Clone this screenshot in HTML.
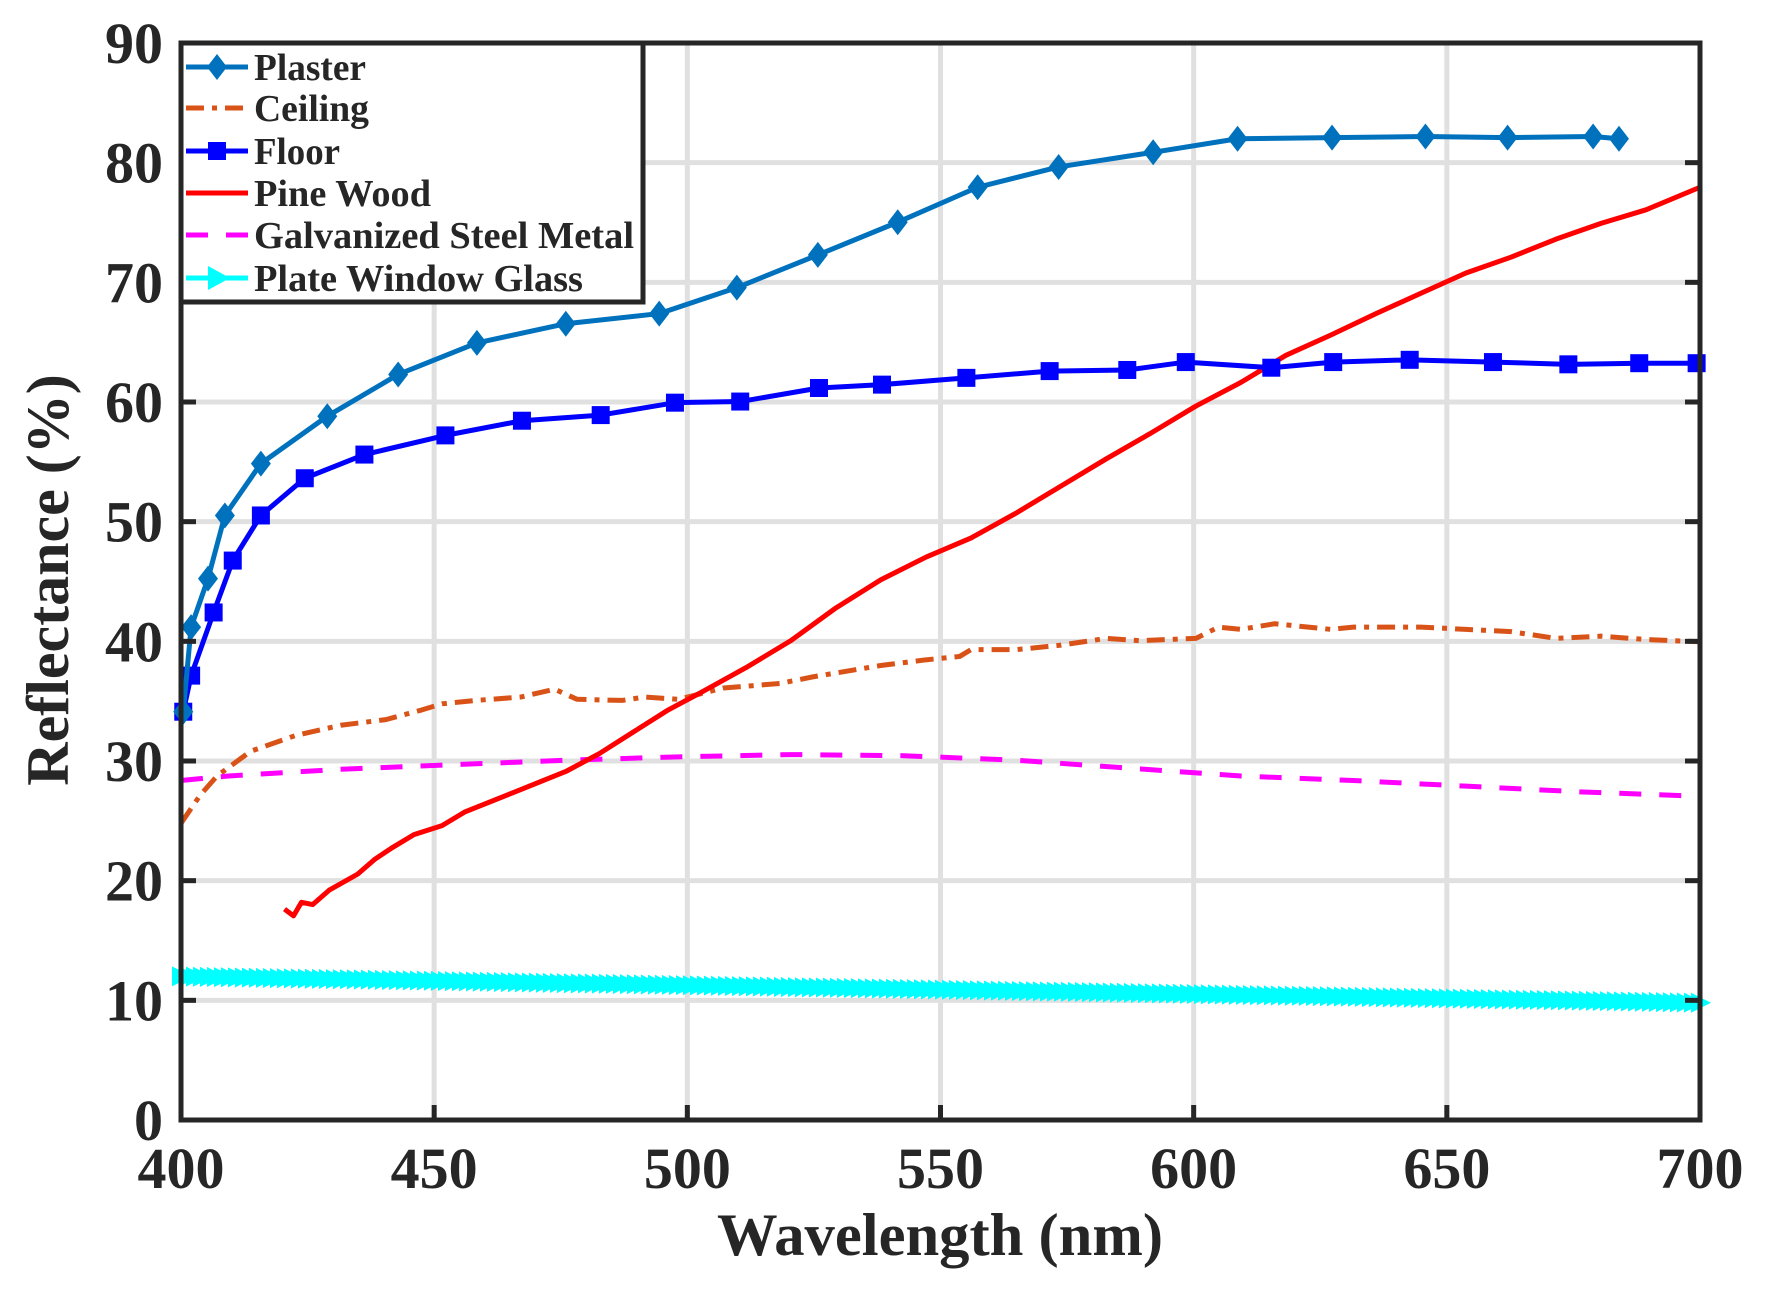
<!DOCTYPE html>
<html><head><meta charset="utf-8"><style>
html,body{margin:0;padding:0;background:#fff;}
svg text{font-family:"Liberation Serif",serif;font-weight:bold;fill:#262626;}
</style></head><body>
<svg id="s" width="1768" height="1284" viewBox="0 0 1768 1284" xmlns="http://www.w3.org/2000/svg">
<rect width="1768" height="1284" fill="#fff"/>
<g id="grid" stroke="#e0e0e0" stroke-width="5"></g>
<g id="series"></g>
<rect x="181" y="43" width="1519" height="1077" fill="none" stroke="#262626" stroke-width="5"/>
<g id="ticks" font-size="58"></g>
<text x="940" y="1255" font-size="60" text-anchor="middle" textLength="446" lengthAdjust="spacingAndGlyphs">Wavelength (nm)</text>
<text transform="translate(68,580) rotate(-90)" font-size="60" text-anchor="middle">Reflectance (%)</text>
<g id="legend"></g>
</svg>
<script>
const NS="http://www.w3.org/2000/svg";
const X=nm=>181+(nm-400)*1519/300, Y=v=>1120-v*1077/90;
const px=p=>X(400+(p-158)/4.5), py=q=>Y((993-q)/10.61);
function el(t,a,parent){const e=document.createElementNS(NS,t);for(const k in a)e.setAttribute(k,a[k]);(parent||document.getElementById('series')).appendChild(e);return e;}
const grid=document.getElementById('grid'),ticks=document.getElementById('ticks');
for(let i=0;i<=6;i++){const x=X(400+50*i);if(i>0&&i<6)el('line',{x1:x,y1:43,x2:x,y2:1120},grid);
 el('line',{x1:x,y1:1120,x2:x,y2:1105,stroke:'#262626','stroke-width':5},ticks);
 const t=el('text',{x:x,y:1188,'text-anchor':'middle'},ticks);t.textContent=400+50*i;}
for(let i=0;i<=9;i++){const y=Y(10*i);if(i>0&&i<9)el('line',{x1:181,y1:y,x2:1700,y2:y},grid);
 el('line',{x1:181,y1:y,x2:196,y2:y,stroke:'#262626','stroke-width':5},ticks);
 el('line',{x1:1700,y1:y,x2:1685,y2:y,stroke:'#262626','stroke-width':5},ticks);
 const t=el('text',{x:163,y:y+20,'text-anchor':'end'},ticks);t.textContent=10*i;}
function pts(a){return a.map(([p,q])=>[px(p),py(q)]);}
function line(P,color,dash){el('polyline',{points:P.map(p=>p.join(',')).join(' '),fill:'none',stroke:color,'stroke-width':5,'stroke-dasharray':dash||'','stroke-linejoin':'round'});}
line(pts([[158,730],[175,705],[190,688],[220,666],[260,652],[300,643],[340,638],[370,630],[390,624],[420,621],[460,618],[490,611],[510,620],[550,621],[570,618],[600,620],[640,610],[690,606],[720,600],[780,590],[820,585],[850,582],[860,576],[900,576],[940,572],[980,566],[1010,568],[1060,566],[1080,556],[1100,558],[1130,553],[1180,558],[1200,556],[1260,556],[1300,558],[1340,560],[1380,566],[1420,564],[1460,567],[1508,569]]),'#D95319','18,8,5,8');
line(pts([[158,692],[200,688],[300,682],[400,678],[500,674],[600,671],[700,669],[800,670],[900,674],[1000,681],[1100,688],[1200,692],[1300,697],[1400,702],[1508,706]]),'#FF00FF','22,18');
line(pts([[250,806],[258,812],[265,800],[275,802],[290,789],[315,775],[330,762],[345,752],[365,740],[390,732],[410,720],[430,712],[460,700],[500,684],[530,668],[560,649],[590,630],[620,614],[660,592],[700,568],[740,539],[780,514],[820,494],[860,477],[900,455],[940,431],[980,407],[1020,384],[1060,360],[1100,339],[1140,315],[1180,297],[1220,278],[1260,260],[1300,242],[1340,228],[1380,212],[1420,198],[1460,186],[1508,166]]),'#FF0000');
{const a=[X(400),Y(12)],b=[X(700),Y(9.8)];line([a,b],'#00FFFF');
 for(let x=a[0];x<=b[0];x+=7){const y=a[1]+(b[1]-a[1])*(x-a[0])/(b[0]-a[0]);
  el('polygon',{points:`${x-9},${y-10} ${x+11},${y} ${x-9},${y+10}`,fill:'#00FFFF'});}}
{const P=pts([[160,631],[167,599],[187,543],[204,497],[229,457],[268,424],[321,403],[393,386],[461,373],[531,368],[597,357],[655,356],[725,344],[781,341],[856,335],[930,329],[999,328],[1051,321],[1127,326],[1182,321],[1250,319],[1324,321],[1391,323],[1454,322],[1505,322]]);
 line(P,'#0000FF');P.forEach(([x,y])=>el('rect',{x:x-9,y:y-9,width:18,height:18,fill:'#0000FF'}));}
{const P=pts([[160,631],[167,556],[182,513],[197,457],[229,411],[288,369],[351,332],[421,304],[500,287],[583,278],[652,255],[724,226],[795,197],[866,166],[938,148],[1022,135],[1097,123],[1181,122],[1264,121],[1337,122],[1413,121],[1436,123]]);
 line(P,'#0072BD');P.forEach(([x,y])=>el('polygon',{points:`${x},${y-13} ${x+10},${y} ${x},${y+13} ${x-10},${y}`,fill:'#0072BD'}));}
const L=document.getElementById('legend');
el('rect',{x:181,y:43,width:462,height:259,fill:'#fff',stroke:'#262626','stroke-width':5},L);
const items=[['Plaster','#0072BD','','d',112],['Ceiling','#D95319','18,8,5,8','',115],['Floor','#0000FF','','s',86],['Pine Wood','#FF0000','','',177],['Galvanized Steel Metal','#FF00FF','22,18','',380],['Plate Window Glass','#00FFFF','','t',329]];
const ys=[67,108,151,193,235,278];
items.forEach(([n,c,d,m,w],i)=>{const y=ys[i];
 el('line',{x1:186,y1:y,x2:248,y2:y,stroke:c,'stroke-width':5,'stroke-dasharray':d},L);
 if(m=='d')el('polygon',{points:`217,${y-13} 227,${y} 217,${y+13} 207,${y}`,fill:c},L);
 if(m=='s')el('rect',{x:208,y:y-9,width:18,height:18,fill:c},L);
 if(m=='t')el('polygon',{points:`208,${y-12} 230,${y} 208,${y+12}`,fill:c},L);
 const t=el('text',{x:254,y:y+13,'font-size':38,fill:'#000',textLength:w,lengthAdjust:'spacingAndGlyphs'},L);t.textContent=n;});
</script>
</body></html>
